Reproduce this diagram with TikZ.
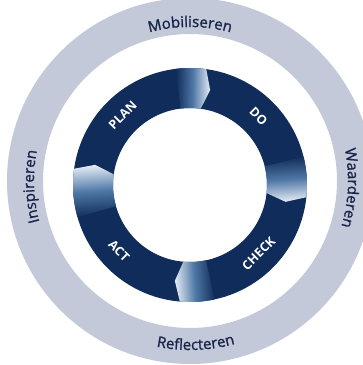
\documentclass[tikz,border=0pt]{standalone}
\usepackage{fontspec}
\setmainfont{Open Sans}
\newfontfamily\ringfont[FakeBold=1.2]{Open Sans}
\usetikzlibrary{decorations.text}
\definecolor{navy}{HTML}{102C5A}
\definecolor{ringgray}{HTML}{C4C9D9}
\definecolor{txt}{HTML}{18254A}
\definecolor{midblue}{HTML}{4F78A6}
\definecolor{paleblue}{HTML}{E4ECF4}
\begin{document}
\begin{tikzpicture}[
  phase/.style={text=white, inner sep=1pt, font=\bfseries\fontsize{12.5}{12.5}\selectfont},
  ringtext/.style={decorate, decoration={text along path, text align=center, text color=txt, text={|\ringfont\fontsize{15}{15}\selectfont|#1}}}
]
\useasboundingbox (0,0) rectangle (363pt,365pt);
\clip (0,0) rectangle (363pt,365pt);
\fill[white] (0,0) rectangle (363pt,365pt);
\coordinate (G) at (190pt,184pt);
\coordinate (D) at (190pt,180pt);
% outer grey ring
\fill[ringgray, even odd rule] (G) circle[radius=183pt] (G) circle[radius=147pt];
% dark PDCA ring
\fill[navy, even odd rule] (D) circle[radius=117pt] (D) circle[radius=77pt];
% gradient arrow ends
\foreach \a/\b/\c in {97/82/78, 14/-6/-10, -78/-95/-99, 196/172/168}{
  \pgfmathsetmacro\sa{(\a+\b)/2-180}
  \shade[top color=paleblue, bottom color=navy, middle color=midblue, shading angle=\sa]
   ([shift={(D)}]\a:117pt) arc[start angle=\a, end angle=\b, radius=117pt]
   -- ([shift={(D)}]\c:97pt) -- ([shift={(D)}]\b:77pt)
   arc[start angle=\b, end angle=\a, radius=77pt] -- cycle;
}
% phase labels
\node[phase, rotate=45]  (plan)  at ([shift={(D)}]134:97pt) {PLAN};
\node[phase, rotate=-45] (do)    at ([shift={(D)}]45:97pt)  {DO};
\node[phase, rotate=45]  (check) at ([shift={(D)}]-45:97pt) {CHECK};
\node[phase, rotate=-45] (act)   at ([shift={(D)}]-137:97pt) {ACT};
% outer ring labels
\path[ringtext=Mobiliseren] ([shift={(G)}]150:154pt) arc[start angle=150, end angle=30, radius=154pt];
\path[ringtext=Waarderen] ([shift={(G)}]37.5:158pt) arc[start angle=37.5, end angle=-42.5, radius=158pt];
\path[ringtext=Inspireren] ([shift={(G)}]222:156pt) arc[start angle=222, end angle=142, radius=156pt];
\path[ringtext=Reflecteren] ([shift={(G)}]-128:169pt) arc[start angle=-128, end angle=-48, radius=169pt];
\end{tikzpicture}
\end{document}
